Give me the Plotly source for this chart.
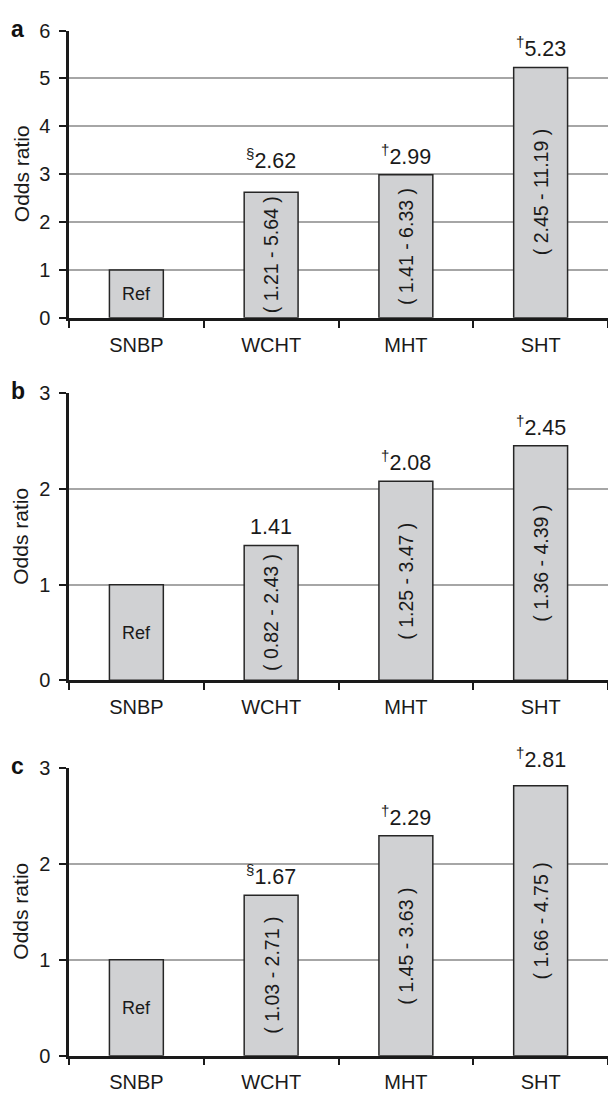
import plotly.graph_objects as go

# ---------------- data ----------------
categories = ["SNBP", "WCHT", "MHT", "SHT"]

odds_a = [1.00, 2.62, 2.99, 5.23]
odds_b = [1.00, 1.41, 2.08, 2.45]
odds_c = [1.00, 1.67, 2.29, 2.81]

marks_a = ["", "§", "†", "†"]
marks_b = ["", "", "†", "†"]
marks_c = ["", "§", "†", "†"]

ci_a = ["Ref", "( 1.21 - 5.64 )", "( 1.41 - 6.33 )", "( 2.45 - 11.19 )"]
ci_b = ["Ref", "( 0.82 - 2.43 )", "( 1.25 - 3.47 )", "( 1.36 - 4.39 )"]
ci_c = ["Ref", "( 1.03 - 2.71 )", "( 1.45 - 3.63 )", "( 1.66 - 4.75 )"]

panel_letters = ["a", "b", "c"]
y_max = [6, 3, 3]
y_title = "Odds ratio"

# ---------------- layout / style ----------------
W, H = 608, 1102
FONT = "Liberation Sans, Arial, Helvetica, sans-serif"
INK = "#1a1a1a"
plot_left = 69
# pixel (top, bottom) of each panel's plotting area
panel_px = [(20, 313), (390, 683), (772, 1066)]
# extra lift (px) for value labels that sit above a gridline in the original
label_lift = [[0, 13, 0, 0], [0, 0, 0, 0], [0, 0, 0, 8]]

def ydom(top, bottom):
    return [1 - bottom / H, 1 - top / H]

panels = [
    (odds_a, marks_a, ci_a),
    (odds_b, marks_b, ci_b),
    (odds_c, marks_c, ci_c),
]

fig = go.Figure()
annotations = []

for i, (vals, marks, cis) in enumerate(panels):
    n = i + 1
    xa = "x" if n == 1 else f"x{n}"
    ya = "y" if n == 1 else f"y{n}"
    fig.add_trace(go.Bar(
        x=categories, y=vals, xaxis=xa, yaxis=ya,
        width=0.4,
        marker=dict(color="#d0d1d3", line=dict(color="#262626", width=1.5)),
        hoverinfo="skip", showlegend=False,
    ))
    top, bottom = panel_px[i]
    xkey = "xaxis" if n == 1 else f"xaxis{n}"
    ykey = "yaxis" if n == 1 else f"yaxis{n}"
    fig.layout[xkey] = dict(
        domain=[plot_left / W, 1], anchor=ya,
        type="category", categoryorder="array", categoryarray=categories,
        range=[-0.5, len(categories) - 0.5],
        showline=True, linecolor=INK, linewidth=2.5,
        ticks="outside", tickson="boundaries", ticklen=7, tickwidth=1.5,
        tickcolor=INK, ticklabelstandoff=7,
        showgrid=False, zeroline=False,
        tickfont=dict(family=FONT, size=20, color=INK),
        fixedrange=True,
    )
    fig.layout[ykey] = dict(
        domain=ydom(top, bottom), anchor=xa,
        range=[0, y_max[i]], dtick=1, tick0=0,
        showline=True, linecolor=INK, linewidth=2.5,
        ticks="outside", ticklen=7, tickwidth=1.5, tickcolor=INK,
        ticklabelstandoff=5,
        showgrid=True, gridcolor="#a6a6a6", gridwidth=1.5,
        zeroline=False,
        tickfont=dict(family=FONT, size=20, color=INK),
        fixedrange=True,
    )
    # value labels above bars
    for j, (c, v, m) in enumerate(zip(categories, vals, marks)):
        if j == 0:
            continue
        txt = (f"<sup>{m}</sup>" if m else "") + f"{v:.2f}"
        annotations.append(dict(
            x=c, y=v, xref=xa, yref=ya, text=txt, showarrow=False,
            yanchor="bottom", yshift=4 + label_lift[i][j],
            font=dict(family=FONT, size=21.5, color=INK),
        ))
    # CI / Ref labels inside bars
    for c, v, t in zip(categories, vals, cis):
        is_ref = (t == "Ref")
        annotations.append(dict(
            x=c, y=v / 2, xref=xa, yref=ya, text=t, showarrow=False,
            textangle=0 if is_ref else -90,
            font=dict(family=FONT, size=18 if is_ref else 19.5, color=INK),
        ))
    # panel letter
    annotations.append(dict(
        x=9 / W, y=1 - (top - 2) / H, xref="paper", yref="paper",
        xanchor="left", yanchor="middle", text=f"<b>{panel_letters[i]}</b>",
        showarrow=False, font=dict(family=FONT, size=23, color="#111111"),
    ))
    # y axis title
    annotations.append(dict(
        x=21 / W, y=1 - ((top + bottom) / 2) / H, xref="paper", yref="paper",
        xanchor="center", yanchor="middle", text=y_title, textangle=-90,
        showarrow=False, font=dict(family=FONT, size=21, color=INK),
    ))

fig.update_layout(
    width=W, height=H,
    margin=dict(l=0, r=0, t=0, b=0),
    paper_bgcolor="white", plot_bgcolor="white",
    annotations=annotations,
    bargap=0.6,
)

fig.write_html("out.html", config={"displayModeBar": False})
